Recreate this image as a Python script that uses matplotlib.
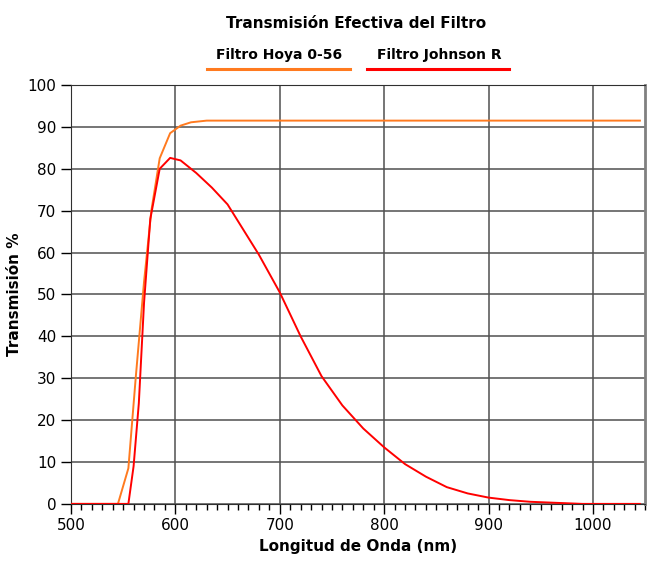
import matplotlib.pyplot as plt
from matplotlib.ticker import MultipleLocator
from matplotlib.lines import Line2D

# Filtro Hoya 0-56
hoya_nm = [500, 545, 555, 562, 570, 577, 585, 595, 605, 615, 630, 1045]
hoya_t = [0, 0, 8.5, 30, 53, 70, 82.5, 88.5, 90.3, 91.1, 91.5, 91.5]

# Filtro Johnson R
johnson_nm = [500, 555, 560, 565, 570, 576, 585, 595, 605, 620, 635, 650, 665,
              680, 700, 720, 740, 760, 780, 800, 820, 840, 860, 880, 900, 920,
              940, 960, 990, 1045]
johnson_t = [0, 0, 9, 24, 48, 68, 80, 82.6, 82, 79, 75.5, 71.5, 65.5,
             59.5, 50.5, 40, 30.5, 23.5, 18, 13.5, 9.5, 6.5, 4, 2.5, 1.5, 0.9,
             0.5, 0.3, 0, 0]

orange = '#FF7A1F'
red = '#FF0000'

fig = plt.figure(figsize=(6.51, 5.63), dpi=100)
ax = fig.add_axes([0.109, 0.105, 0.882, 0.744])

ax.plot(hoya_nm, hoya_t, color=orange, lw=1.4, zorder=3)
ax.plot(johnson_nm, johnson_t, color=red, lw=1.4, zorder=4)

ax.set_xlim(500, 1050)
ax.set_ylim(0, 100)
ax.xaxis.set_major_locator(MultipleLocator(100))
ax.xaxis.set_minor_locator(MultipleLocator(10))
ax.yaxis.set_major_locator(MultipleLocator(10))
ax.grid(True, which='major', color='#505050', lw=1.1)
ax.tick_params(axis='both', which='major', direction='out', length=7,
               width=1, labelsize=11)
ax.tick_params(axis='x', which='minor', direction='out', length=4, width=1)
for s in ax.spines.values():
    s.set_color('#303030')
ax.spines['right'].set_color('#808080')
ax.spines['right'].set_linewidth(2)

ax.set_xlabel('Longitud de Onda (nm)', fontsize=11, fontweight='bold')
ax.set_ylabel('Transmisión %', fontsize=11, fontweight='bold')

fig.text(0.547, 0.958, 'Transmisión Efectiva del Filtro', ha='center',
         va='center', fontsize=11, fontweight='bold')
fig.text(0.428, 0.902, 'Filtro Hoya 0-56', ha='center', va='center',
         fontsize=10, fontweight='bold')
fig.text(0.675, 0.902, 'Filtro Johnson R', ha='center', va='center',
         fontsize=10, fontweight='bold')
fig.add_artist(Line2D([0.318, 0.538], [0.877, 0.877], color=orange, lw=2.2))
fig.add_artist(Line2D([0.564, 0.782], [0.877, 0.877], color=red, lw=2.2))

fig.savefig('out.png', dpi=100)
